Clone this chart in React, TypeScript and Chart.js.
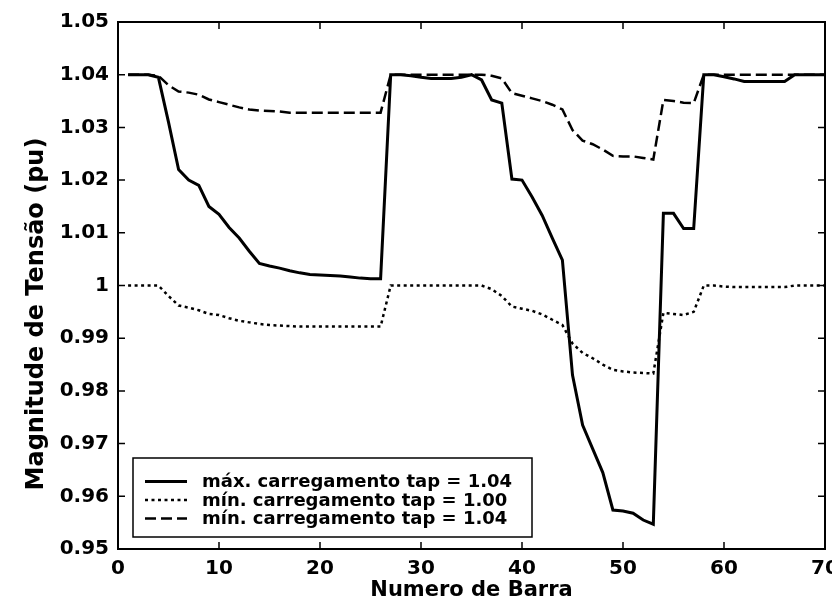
import React, { useEffect, useRef } from "react";
import { Chart, registerables } from "chart.js";

Chart.register(...registerables);

const CANVAS_W = 860;
const CANVAS_H = 605;

// Bus numbers (x categories)
const busNumbers = [
  1, 2, 3, 4, 5, 6, 7, 8, 9, 10,
  11, 12, 13, 14, 15, 16, 17, 18, 19, 20,
  21, 22, 23, 24, 25, 26, 27, 28, 29, 30,
  31, 32, 33, 34, 35, 36, 37, 38, 39, 40,
  41, 42, 43, 44, 45, 46, 47, 48, 49, 50,
  51, 52, 53, 54, 55, 56, 57, 58, 59, 60,
  61, 62, 63, 64, 65, 66, 67, 68, 69, 70,
];

// máx. carregamento tap = 1.04 (solid)
const maxLoadTap104 = [
  1.040, 1.040, 1.040, 1.0395, 1.031, 1.022, 1.020, 1.019, 1.015, 1.0135,
  1.011, 1.009, 1.0065, 1.0042, 1.0037, 1.0033, 1.0028, 1.0024, 1.0021, 1.002,
  1.0019, 1.0018, 1.0016, 1.0014, 1.0013, 1.0013, 1.040, 1.040, 1.0398, 1.0395,
  1.0393, 1.0393, 1.0393, 1.0395, 1.040, 1.039, 1.0352, 1.0346, 1.0202, 1.020,
  1.0168, 1.0133, 1.009, 1.0048, 0.983, 0.9735, 0.969, 0.9645, 0.9574, 0.9572,
  0.9568, 0.9555, 0.9547, 1.0137, 1.0137, 1.0108, 1.0108, 1.040, 1.040, 1.0396,
  1.0392, 1.0387, 1.0387, 1.0387, 1.0387, 1.0387, 1.040, 1.040, 1.040, 1.040,
];

// mín. carregamento tap = 1.00 (dotted)
const minLoadTap100 = [
  1.000, 1.000, 1.000, 1.000, 0.998, 0.9962, 0.9958, 0.9953, 0.9946, 0.9944,
  0.9938, 0.9933, 0.993, 0.9927, 0.9925, 0.9924, 0.9923, 0.9922, 0.9922, 0.9922,
  0.9922, 0.9922, 0.9922, 0.9922, 0.9922, 0.9922, 1.000, 1.000, 1.000, 1.000,
  1.000, 1.000, 1.000, 1.000, 1.000, 1.000, 0.9993, 0.998, 0.996, 0.9956,
  0.9952, 0.9945, 0.9935, 0.9925, 0.989, 0.9872, 0.9862, 0.985, 0.984, 0.9837,
  0.9835, 0.9834, 0.9833, 0.9948, 0.9946, 0.9944, 0.995, 1.000, 1.000, 0.9998,
  0.9997, 0.9997, 0.9997, 0.9997, 0.9997, 0.9997, 1.000, 1.000, 1.000, 1.000,
];

// mín. carregamento tap = 1.04 (dashed)
const minLoadTap104 = [
  1.040, 1.040, 1.040, 1.0398, 1.038, 1.0368, 1.0366, 1.0362, 1.0353, 1.0348,
  1.0343, 1.0338, 1.0334, 1.0332, 1.0331, 1.033, 1.0328, 1.0328, 1.0328, 1.0328,
  1.0328, 1.0328, 1.0328, 1.0328, 1.0328, 1.0328, 1.040, 1.040, 1.040, 1.040,
  1.040, 1.040, 1.040, 1.040, 1.040, 1.040, 1.0398, 1.0393, 1.0365, 1.036,
  1.0355, 1.035, 1.0343, 1.0334, 1.0295, 1.0275, 1.0268, 1.0258, 1.0246, 1.0245,
  1.0245, 1.0242, 1.0239, 1.0352, 1.035, 1.0347, 1.0346, 1.040, 1.040, 1.040,
  1.040, 1.040, 1.040, 1.040, 1.040, 1.040, 1.040, 1.040, 1.040, 1.040,
];

const seriesLabels = [
  "máx. carregamento tap = 1.04",
  "mín. carregamento tap = 1.00",
  "mín. carregamento tap = 1.04",
];

const xTickValues = [0, 10, 20, 30, 40, 50, 60, 70];
const xTickLabels = ["0", "10", "20", "30", "40", "50", "60", "70"];
const yTickValues = [0.95, 0.96, 0.97, 0.98, 0.99, 1.0, 1.01, 1.02, 1.03, 1.04, 1.05];
const yTickLabels = ["0.95", "0.96", "0.97", "0.98", "0.99", "1", "1.01", "1.02", "1.03", "1.04", "1.05"];

const xTitle = "Numero de Barra";
const yTitle = "Magnitude de Tensão (pu)";

const FONT = "DejaVu Sans";

const decorPlugin = {
  id: "decor",
  afterDatasetsDraw(chart: any) {
    const { ctx, chartArea } = chart;
    const { left, right, top, bottom } = chartArea;
    const xs = chart.scales.x;
    const ys = chart.scales.y;
    ctx.save();
    ctx.setLineDash([]);
    ctx.strokeStyle = "#000";
    // inward tick marks on all four sides
    ctx.lineWidth = 1.5;
    ctx.beginPath();
    const tl = 7;
    xs.ticks.forEach((t: any) => {
      const p = xs.getPixelForValue(t.value);
      ctx.moveTo(p, bottom);
      ctx.lineTo(p, bottom - tl);
      ctx.moveTo(p, top);
      ctx.lineTo(p, top + tl);
    });
    ys.ticks.forEach((t: any) => {
      const p = ys.getPixelForValue(t.value);
      ctx.moveTo(left, p);
      ctx.lineTo(left + tl, p);
      ctx.moveTo(right, p);
      ctx.lineTo(right - tl, p);
    });
    ctx.stroke();
    // frame
    ctx.lineWidth = 2;
    ctx.strokeRect(left, top, right - left, bottom - top);

    // legend box
    const bx = left + 15;
    const by = bottom - 91;
    const bw = 399;
    const bh = 79;
    ctx.fillStyle = "#fff";
    ctx.fillRect(bx, by, bw, bh);
    ctx.lineWidth = 1.5;
    ctx.strokeRect(bx, by, bw, bh);
    const rowY = [by + 23.5, by + 42, by + 60.5];
    ctx.font = `bold 18px "${FONT}"`;
    ctx.textAlign = "left";
    ctx.textBaseline = "alphabetic";
    chart.data.datasets.forEach((ds: any, i: number) => {
      const y = rowY[i];
      ctx.save();
      ctx.strokeStyle = ds.borderColor;
      ctx.lineWidth = ds.borderWidth;
      ctx.setLineDash(ds.borderDash || []);
      ctx.beginPath();
      ctx.moveTo(bx + 12, y);
      ctx.lineTo(bx + 54, y);
      ctx.stroke();
      ctx.restore();
      ctx.fillStyle = "#000";
      ctx.fillText(ds.label, bx + 69, y + 5.5);
    });

    // y axis title
    ctx.save();
    ctx.translate(37, 314);
    ctx.rotate(-Math.PI / 2);
    ctx.font = `bold 24px "${FONT}"`;
    ctx.textAlign = "center";
    ctx.textBaseline = "middle";
    ctx.fillStyle = "#000";
    ctx.fillText(yTitle, 0, 0);
    ctx.restore();

    ctx.restore();
  },
};

const whiteBg = {
  id: "whiteBg",
  beforeDraw(chart: any) {
    const { ctx, width, height } = chart;
    ctx.save();
    ctx.fillStyle = "#fff";
    ctx.fillRect(0, 0, width, height);
    ctx.restore();
  },
};

export default function App() {
  const ref = useRef<HTMLCanvasElement | null>(null);

  useEffect(() => {
    document.documentElement.style.overflow = "hidden";
    document.body.style.overflow = "hidden";
    document.body.style.margin = "0";
    const canvas = ref.current;
    if (!canvas) return;
    const mk = (vals: number[]) => busNumbers.map((b, i) => ({ x: b, y: vals[i] }));
    const chart = new Chart(canvas, {
      type: "line",
      data: {
        datasets: [
          {
            label: seriesLabels[0],
            data: mk(maxLoadTap104),
            borderColor: "#000",
            borderWidth: 3,
            borderDash: [],
            pointRadius: 0,
            tension: 0,
          },
          {
            label: seriesLabels[1],
            data: mk(minLoadTap100),
            borderColor: "#000",
            borderWidth: 2.5,
            borderDash: [3, 3.5],
            pointRadius: 0,
            tension: 0,
          },
          {
            label: seriesLabels[2],
            data: mk(minLoadTap104),
            borderColor: "#000",
            borderWidth: 2.5,
            borderDash: [11, 5],
            pointRadius: 0,
            tension: 0,
          },
        ],
      },
      options: {
        responsive: false,
        animation: false,
        devicePixelRatio: 1,
        layout: { padding: { left: 0, top: 22, right: CANVAS_W - 825, bottom: 0 } },
        plugins: {
          legend: { display: false },
          tooltip: { enabled: false },
        },
        scales: {
          x: {
            type: "linear",
            min: 0,
            max: 70,
            grid: { display: false, drawTicks: false },
            border: { display: false },
            afterBuildTicks: (s: any) => {
              s.ticks = xTickValues.map((v) => ({ value: v }));
            },
            afterFit: (s: any) => {
              s.height = 56;
            },
            ticks: {
              autoSkip: false,
              maxRotation: 0,
              padding: 8,
              color: "#000",
              font: { family: FONT, size: 20, weight: "bold" },
              callback: (_v: any, i: number) => xTickLabels[i],
            },
            title: {
              display: true,
              text: xTitle,
              color: "#000",
              font: { family: FONT, size: 21, weight: "bold" },
              padding: { top: 0, bottom: 2 },
            },
          },
          y: {
            type: "linear",
            min: 0.95,
            max: 1.05,
            grid: { display: false, drawTicks: false },
            border: { display: false },
            afterBuildTicks: (s: any) => {
              s.ticks = yTickValues.map((v) => ({ value: v }));
            },
            afterFit: (s: any) => {
              s.width = 118;
            },
            ticks: {
              autoSkip: false,
              padding: 9,
              color: "#000",
              font: { family: FONT, size: 20, weight: "bold" },
              callback: (_v: any, i: number) => yTickLabels[i],
            },
          },
        },
      },
      plugins: [whiteBg, decorPlugin],
    } as any);
    return () => chart.destroy();
  }, []);

  return (
    <div style={{ position: "fixed", left: 0, top: 0, width: CANVAS_W, height: CANVAS_H }}>
      <canvas ref={ref} width={CANVAS_W} height={CANVAS_H} style={{ width: CANVAS_W, height: CANVAS_H, display: "block" }} />
    </div>
  );
}
